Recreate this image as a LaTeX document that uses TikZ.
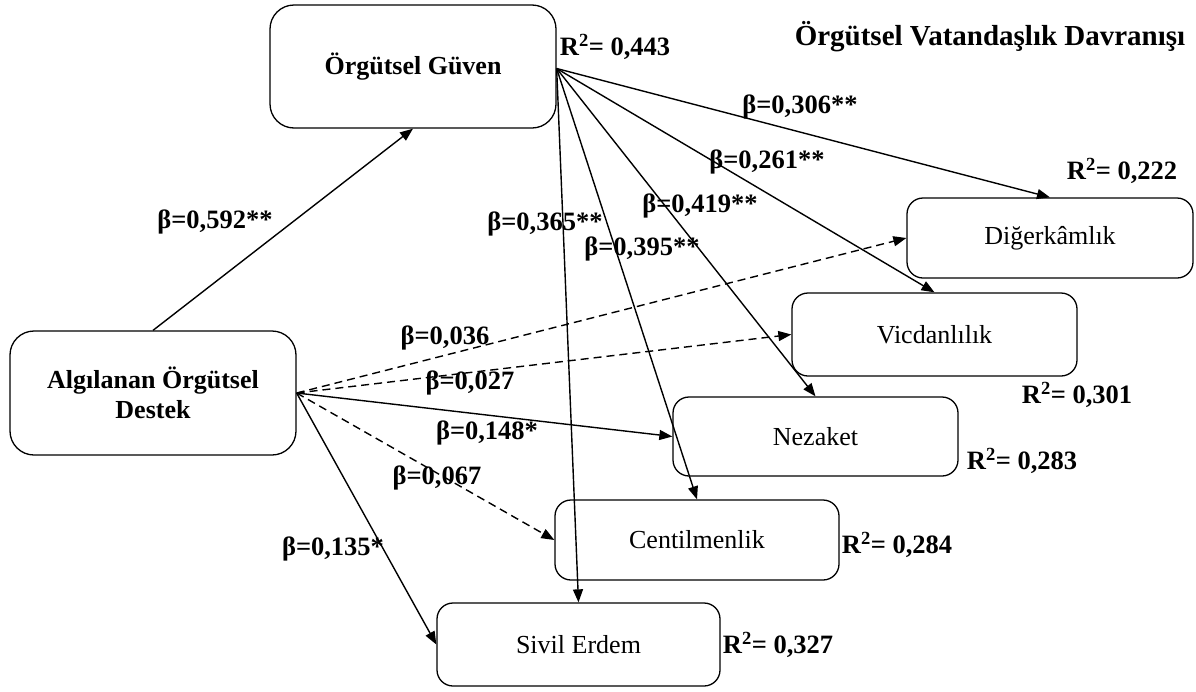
\documentclass[tikz,border=0pt]{standalone}
\usepackage{fontspec}
\setmainfont{Liberation Serif}
\usetikzlibrary{arrows.meta,calc}
\begin{document}
\begin{tikzpicture}[x=1pt,y=-1pt,
  box/.style={draw,line width=1.3pt,rounded corners=16pt,align=center,inner sep=0pt,font=\fontsize{26}{30}\selectfont},
  bigbox/.style={box,rounded corners=24pt,font=\fontsize{26}{30}\selectfont\bfseries},
  lab/.style={font=\fontsize{26.5}{30}\selectfont\bfseries,inner sep=0pt},
  arr/.style={line width=1.4pt,-{Triangle[length=13pt,width=10pt]}},
  dsh/.style={arr,dash pattern=on 8pt off 5pt}]
\useasboundingbox (0,0) rectangle (1196,691);
% boxes
\node[bigbox,minimum width=286pt,minimum height=123pt] (G) at (413,66.5) {Örgütsel Güven};
\node[bigbox,minimum width=286pt,minimum height=124pt] (A) at (153,393) {Algılanan Örgütsel\\Destek};
\node[box,minimum width=286pt,minimum height=80pt] (D) at (1050,238) {Diğerkâmlık};
\node[box,minimum width=285pt,minimum height=83pt] (V) at (934.5,334.5) {Vicdanlılık};
\node[box,minimum width=285pt,minimum height=79pt] (N) at (815.5,436.5) {Nezaket};
\node[box,minimum width=284pt,minimum height=80pt] (C) at (697,540) {Centilmenlik};
\node[box,minimum width=283pt,minimum height=83pt] (S) at (578.5,644.5) {Sivil Erdem};
\coordinate (go) at ($(G.east)+(0,2)$);
% arrows
\draw[arr] (A.north) -- (G.south);
\draw[arr] (go) -- (D.north);
\draw[arr] (go) -- (V.north);
\draw[arr] (go) -- (N.north);
\draw[arr] (go) -- (C.north);
\draw[arr] (go) -- (S.north);
\draw[dsh] (A.east) -- (D.west);
\draw[dsh] (A.east) -- (V.west);
\draw[arr] (A.east) -- (N.west);
\draw[dsh] (A.east) -- (C.west);
\draw[arr] (A.east) -- (S.west);
% labels
\node[lab] (l1) at (215,222) {β=0,592**};
\node[lab] (l2) at (800,107) {β=0,306**};
\node[lab] (l3) at (767,162) {β=0,261**};
\node[lab] (l4) at (700,206) {β=0,419**};
\node[lab] (l5) at (545,224) {β=0,365**};
\node[lab] (l6) at (642,249) {β=0,395**};
\node[lab] (l7) at (445,338) {β=0,036};
\node[lab] (l8) at (470,383) {β=0,027};
\node[lab] (l9) at (487,433) {β=0,148*};
\node[lab] (l10) at (437,478) {β=0,067};
\node[lab] (l11) at (333,549) {β=0,135*};
\node[lab] (r1) at (615,47) {R\textsuperscript{2}= 0,443};
\node[lab] (r2) at (1122,171) {R\textsuperscript{2}= 0,222};
\node[lab] (r3) at (1077,395) {R\textsuperscript{2}= 0,301};
\node[lab] (r4) at (1022,461) {R\textsuperscript{2}= 0,283};
\node[lab] (r5) at (897,545) {R\textsuperscript{2}= 0,284};
\node[lab] (r6) at (778,645) {R\textsuperscript{2}= 0,327};
\node[lab,font=\fontsize{29}{32}\selectfont\bfseries] (t) at (990,37) {Örgütsel Vatandaşlık Davranışı};
\end{tikzpicture}
\end{document}
